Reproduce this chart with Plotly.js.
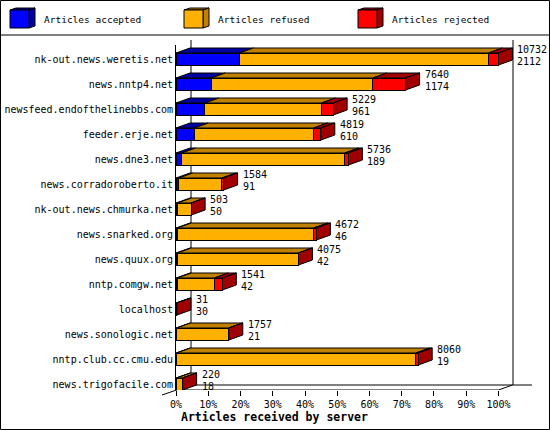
<!DOCTYPE html>
<html>
<head>
<meta charset="utf-8">
<script src="https://cdn.plot.ly/plotly-3.0.1.min.js"></script>
<style>
  html, body { margin: 0; padding: 0; background: #fff; }
  #chart { width: 550px; height: 430px; }
</style>
</head>
<body>
<div id="chart"></div>
<script>
// Server names, top to bottom
const servers = [
    'nk-out.news.weretis.net', 'news.nntp4.net', 'newsfeed.endofthelinebbs.com',
    'feeder.erje.net', 'news.dne3.net', 'news.corradoroberto.it',
    'nk-out.news.chmurka.net', 'news.snarked.org', 'news.quux.org',
    'nntp.comgw.net', 'localhost', 'news.sonologic.net',
    'nntp.club.cc.cmu.edu', 'news.trigofacile.com'
];
// Article counts per server
const totals   = [10732, 7640, 5229, 4819, 5736, 1584, 503, 4672, 4075, 1541, 31, 1757, 8060, 220];
const accepted = [2112, 1174, 961, 610, 189, 91, 50, 46, 42, 42, 30, 21, 19, 18];
const refused  = [8287, 5376, 3878, 3969, 5427, 1438, 453, 4536, 4033, 1232, 0, 1736, 7961, 202];
const rejected = [333, 1090, 390, 240, 120, 55, 0, 90, 0, 267, 1, 0, 80, 0];

const seriesNames = ['Articles accepted', 'Articles refused', 'Articles rejected'];
const pctTicks = [0, 10, 20, 30, 40, 50, 60, 70, 80, 90, 100];

// Look
const frontColors = ['#0000ff', '#ffb000', '#ff0000'];
const darkColors  = ['#0000a0', '#c08000', '#a00000'];
const FONT = 'DejaVu Sans Mono, Liberation Mono, monospace';

const W = 550, H = 430;
const M = { l: 176, r: 17, t: 45, b: 40 };
const plotW = W - M.l - M.r;
const plotH = H - M.t - M.b;
const X_MAX = 110.7;        // leaves room right of 100% for the 3D depth
const Y_RANGE = [13.24, -0.56];
const BAR_W = 0.48;
const DX = 4.34;            // depth in % units
const DY = 0.2;             // depth in row units

// pixel -> paper helpers for frame decoration
function px(x) { return (x - M.l) / plotW; }
function py(y) { return (H - M.b - y) / plotH; }

// scale counts to percent of the busiest server
const maxTotal = Math.max(...totals);
const toPct = arr => arr.map(v => v / maxTotal * 100);
const series = [toPct(accepted), toPct(refused), toPct(rejected)];
const rows = servers.map((_, i) => i);

const traces = series.map((vals, k) => ({
    type: 'bar',
    orientation: 'h',
    name: seriesNames[k],
    x: vals,
    y: rows,
    width: BAR_W,
    marker: { color: frontColors[k], line: { color: '#000', width: 1 } },
    hoverinfo: 'skip',
    showlegend: false
}));

const shapes = [];
const annotations = [];

function paperLine(x0, y0, x1, y1) {
    shapes.push({
        type: 'line', xref: 'paper', yref: 'paper', layer: 'below',
        x0: px(x0), y0: py(y0), x1: px(x1), y1: py(y1),
        line: { color: '#000', width: 1 }
    });
}

// frame: border, legend separator, back walls and floor
shapes.push({
    type: 'rect', xref: 'paper', yref: 'paper', layer: 'above',
    x0: px(0.5), x1: px(549.5), y0: py(429.5), y1: py(0.5),
    line: { color: '#000', width: 1 }
});
paperLine(0, 35, 550, 35);
paperLine(191, 40, 191, 385);
paperLine(513, 40, 513, 385);
paperLine(191, 385, 532, 385);
paperLine(162, 395, 191, 385);

// floor front edge, tied to the x scale
shapes.push({
    type: 'path', xref: 'x', yref: 'y', layer: 'below',
    path: `M 0,${Y_RANGE[0]} L 100,${Y_RANGE[0]} L ${100 + DX},${Y_RANGE[0] - DY}`,
    line: { color: '#000', width: 1 }
});

function face(path, fill) {
    shapes.push({
        type: 'path', xref: 'x', yref: 'y', layer: 'below',
        path: path, fillcolor: fill,
        line: { color: '#000', width: 1 }
    });
}

// 3D top and side faces for each bar
rows.forEach(i => {
    const yt = i - BAR_W / 2;
    const yb = i + BAR_W / 2;
    let start = 0;
    series.forEach((vals, k) => {
        const end = start + vals[i];
        face(`M ${start},${yt} L ${end},${yt} L ${end + DX},${yt - DY} L ${start + DX},${yt - DY} Z`, darkColors[k]);
        start = end;
    });
    face(`M ${start},${yt} L ${start + DX},${yt - DY} L ${start + DX},${yb - DY} L ${start},${yb} Z`, darkColors[2]);

    annotations.push({
        x: start + DX, y: i - 0.37, xref: 'x', yref: 'y',
        text: String(totals[i]), showarrow: false,
        xanchor: 'left', yanchor: 'middle', xshift: 3
    });
    annotations.push({
        x: start + DX, y: i + 0.08, xref: 'x', yref: 'y',
        text: String(accepted[i]), showarrow: false,
        xanchor: 'left', yanchor: 'middle', xshift: 3
    });
});

// legend drawn as little cubes
const legendX = [10, 184, 358];
seriesNames.forEach((name, k) => {
    const x = legendX[k], top = 10, w = 19, h = 18, dx = 6, dy = 2;
    const P = (a, b) => `${px(a)},${py(b)}`;
    shapes.push({
        type: 'path', xref: 'paper', yref: 'paper', layer: 'above',
        path: `M ${P(x, top)} L ${P(x + dx, top - dy)} L ${P(x + w + dx, top - dy)} L ${P(x + w, top)} Z`,
        fillcolor: darkColors[k], line: { color: '#000', width: 1 }
    });
    shapes.push({
        type: 'path', xref: 'paper', yref: 'paper', layer: 'above',
        path: `M ${P(x + w, top)} L ${P(x + w + dx, top - dy)} L ${P(x + w + dx, top + h - dy)} L ${P(x + w, top + h)} Z`,
        fillcolor: darkColors[k], line: { color: '#000', width: 1 }
    });
    shapes.push({
        type: 'rect', xref: 'paper', yref: 'paper', layer: 'above',
        x0: px(x), x1: px(x + w), y0: py(top + h), y1: py(top),
        fillcolor: frontColors[k], line: { color: '#000', width: 1 }
    });
    annotations.push({
        x: px(x + 32), y: py(20), xref: 'paper', yref: 'paper',
        text: name, showarrow: false, xanchor: 'left', yanchor: 'middle',
        font: { size: 9.5 }
    });
});

// axis title, set left like the original
annotations.push({
    x: px(179), y: py(417), xref: 'paper', yref: 'paper',
    text: '<b>Articles received by server</b>', showarrow: false,
    xanchor: 'left', yanchor: 'middle',
    font: { size: 11.5 }
});

const layout = {
    width: W,
    height: H,
    margin: M,
    barmode: 'stack',
    showlegend: false,
    paper_bgcolor: '#fff',
    plot_bgcolor: '#fff',
    font: { family: FONT, size: 10, color: '#000' },
    xaxis: {
        range: [0, X_MAX],
        tickvals: pctTicks,
        ticktext: pctTicks.map(v => v + '%'),
        ticks: 'outside',
        ticklen: 5,
        tickcolor: '#000',
        showline: false,
        showgrid: false,
        zeroline: false,
        fixedrange: true
    },
    yaxis: {
        range: Y_RANGE,
        tickvals: rows,
        ticktext: servers,
        ticks: '',
        showline: true,
        linecolor: '#000',
        linewidth: 1,
        showgrid: false,
        zeroline: false,
        fixedrange: true
    },
    shapes: shapes,
    annotations: annotations
};

Plotly.newPlot('chart', traces, layout, { displayModeBar: false, staticPlot: true });
</script>
</body>
</html>
